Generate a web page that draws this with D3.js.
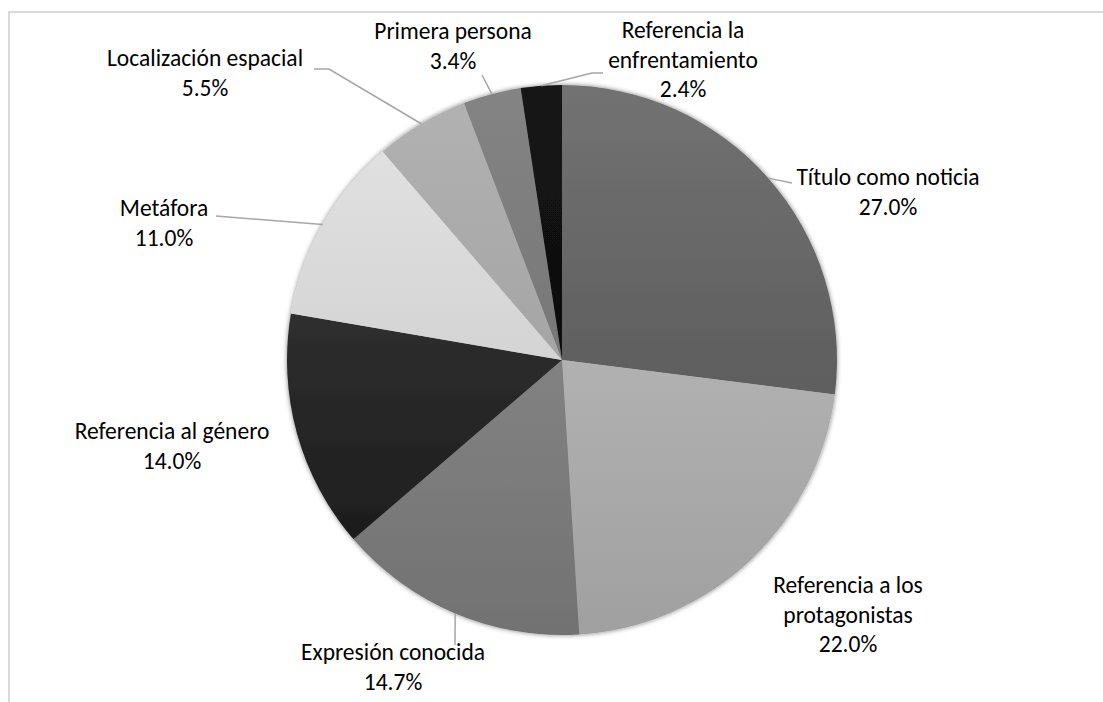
<!DOCTYPE html>
<meta charset="utf-8">
<style>
    body { margin: 0; background: #fff; }
    .label { font-family: Carlito, Calibri, Lato, sans-serif; font-size: 23.5px; fill: #000; }
    .leader { fill: none; stroke: #a6a6a6; stroke-width: 1.5; }
</style>
<body></body>
<script src="https://d3js.org/d3.v7.min.js"></script>
<script>
    // chart values
    var categories = ["Título como noticia", "Referencia a los protagonistas", "Expresión conocida",
        "Referencia al género", "Metáfora", "Localización espacial", "Primera persona",
        "Referencia la enfrentamiento"];
    var values = [27.0, 22.0, 14.7, 14.0, 11.0, 5.5, 3.4, 2.4];
    // wrapped label lines, as in the chart
    var labelLines = [
        ["Título como noticia"],
        ["Referencia a los", "protagonistas"],
        ["Expresión conocida"],
        ["Referencia al género"],
        ["Metáfora"],
        ["Localización espacial"],
        ["Primera persona"],
        ["Referencia la", "enfrentamiento"]
    ];

    // grey levels of each slice (top / bottom of the gradient)
    var shadeTop = ["#727272", "#c2c2c2", "#929292", "#404040", "#e4e4e4", "#b2b2b2", "#848484", "#141414"];
    var shadeBottom = ["#4e4e4e", "#a0a0a0", "#727272", "#161616", "#c4c4c4", "#989898", "#6a6a6a", "#0a0a0a"];

    // label layout: centre x, first baseline y, and the leader elbow (null = no leader)
    var labelPos = [
        { x: 888, y: 185, leader: [[792, 183]] },
        { x: 848, y: 593, leader: null },
        { x: 393, y: 660, leader: [[455, 645]] },
        { x: 172, y: 439, leader: null },
        { x: 164, y: 216, leader: [[216, 216]] },
        { x: 205, y: 66, leader: [[329, 69], [314, 69]] },
        { x: 453, y: 39, leader: [[482, 75]] },
        { x: 683, y: 38, leader: [[592, 73], [603, 73]] }
    ];

    var width = 1103, height = 702;
    var cx = 562, cy = 360, radius = 275;
    var lineH = 29.5;

    var svg = d3.select("body").append("svg")
        .attr("width", width)
        .attr("height", height);

    // chart frame
    svg.append("rect")
        .attr("x", 9).attr("y", 12)
        .attr("width", width).attr("height", height)
        .attr("fill", "none")
        .attr("stroke", "#d9d9d9")
        .attr("stroke-width", 2);

    var defs = svg.append("defs");

    var shadow = defs.append("filter").attr("id", "soft")
        .attr("x", "-10%").attr("y", "-10%").attr("width", "120%").attr("height", "120%");
    shadow.append("feGaussianBlur").attr("in", "SourceAlpha").attr("stdDeviation", 2.5).attr("result", "b");
    shadow.append("feComponentTransfer").attr("in", "b").attr("result", "s")
        .append("feFuncA").attr("type", "linear").attr("slope", 0.5);
    var merge = shadow.append("feMerge");
    merge.append("feMergeNode").attr("in", "s");
    merge.append("feMergeNode").attr("in", "SourceGraphic");

    categories.forEach(function (c, i) {
        var g = defs.append("linearGradient")
            .attr("id", "grad" + i)
            .attr("gradientUnits", "userSpaceOnUse")
            .attr("x1", 0).attr("y1", -radius)
            .attr("x2", 0).attr("y2", radius);
        g.append("stop").attr("offset", "0%").attr("stop-color", shadeTop[i]);
        g.append("stop").attr("offset", "100%").attr("stop-color", shadeBottom[i]);
    });

    var pie = d3.pie().sort(null).value(function (d) { return d; });
    var arcs = pie(values);

    var arc = d3.arc().innerRadius(0).outerRadius(radius);

    var pieG = svg.append("g")
        .attr("transform", "translate(" + cx + "," + cy + ")")
        .attr("filter", "url(#soft)");

    pieG.selectAll("path.slice")
        .data(arcs)
        .enter().append("path")
        .attr("class", "slice")
        .attr("d", arc)
        .attr("fill", function (d, i) { return "url(#grad" + i + ")"; });

    // leader lines: from the rim at the slice middle to the label
    var leaders = svg.append("g");
    arcs.forEach(function (d, i) {
        var p = labelPos[i];
        if (!p.leader) return;
        var a = (d.startAngle + d.endAngle) / 2;
        var pts = [[cx + radius * Math.sin(a), cy - radius * Math.cos(a)]].concat(p.leader);
        leaders.append("path")
            .attr("class", "leader")
            .attr("d", d3.line()(pts));
    });

    // labels
    var labels = svg.append("g");
    arcs.forEach(function (d, i) {
        var p = labelPos[i];
        var t = labels.append("text")
            .attr("class", "label")
            .attr("text-anchor", "middle");
        var lines = labelLines[i].concat([d3.format(".1f")(values[i]) + "%"]);
        lines.forEach(function (s, k) {
            t.append("tspan")
                .attr("x", p.x)
                .attr("y", p.y + k * lineH)
                .text(s);
        });
    });
</script>
